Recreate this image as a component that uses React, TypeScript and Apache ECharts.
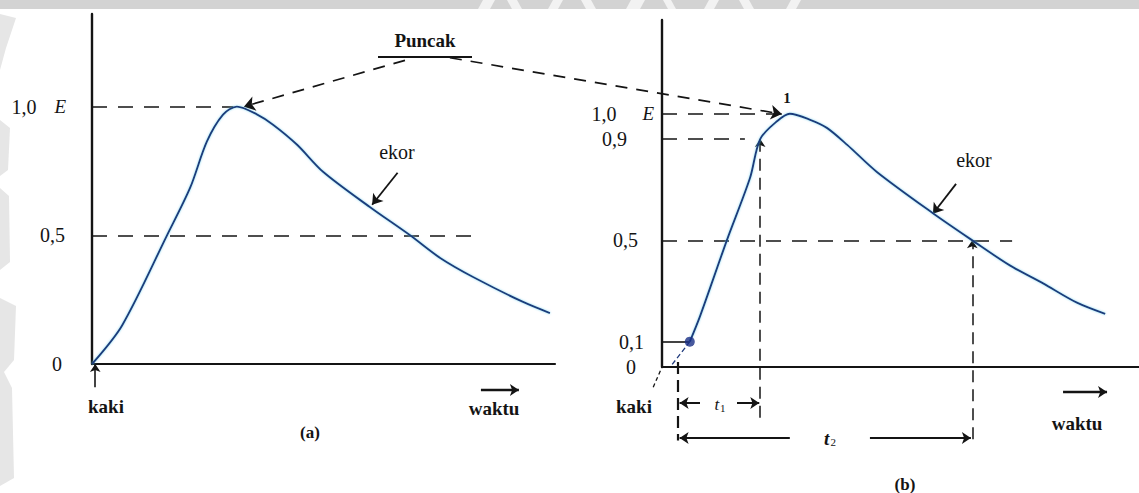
import React, { useEffect, useRef } from "react";
import * as echarts from "echarts";

// ---- Panel (a): full impulse wave, voltage as a fraction of the crest E ----
const waveATime = [0, 6.5, 16.2, 21.2, 24.8, 28.3, 31.3, 35.6, 39.1, 44.3, 49.9, 60, 68.7, 75.2, 82.3, 93.1, 98.9];
const waveAVolt = [0, 0.15, 0.5, 0.685, 0.864, 0.969, 1.0, 0.97, 0.93, 0.852, 0.747, 0.61, 0.5, 0.412, 0.338, 0.241, 0.198];
const yTicksA = [0, 0.5, 1.0];

// ---- Panel (b): same wave with front (t1) and tail (t2) times ----
const waveBTime = [6.0, 8.2, 14.0, 19.0, 21.2, 24.8, 27.6, 32.0, 35.6, 40.0, 46.4, 58.5, 67.0, 75.2, 82.3, 89.6, 95.7];
const waveBVolt = [0.1, 0.2, 0.5, 0.746, 0.9, 0.97, 1.0, 0.976, 0.944, 0.877, 0.77, 0.607, 0.5, 0.4, 0.33, 0.254, 0.21];
const yTicksB = [0, 0.1, 0.5, 0.9, 1.0];
const virtualOrigin = 3.5; // where t1 and t2 are measured from
const t1End = 21.2; // crossing of 0,9
const t2End = 67.0; // crossing of 0,5 on the tail

const serif = "'Liberation Serif', 'DejaVu Serif', serif";
const ink = "#141414";
const curveColor = "#1f3a7c";

type Pt = [number, number];

function segs(
  grid: number,
  data: Pt[][],
  opts: { arrow?: boolean; dash?: number[] | "solid"; width?: number; size?: number; color?: string } = {}
) {
  return {
    type: "lines",
    coordinateSystem: "cartesian2d",
    xAxisIndex: grid,
    yAxisIndex: grid,
    clip: false,
    silent: true,
    z: 3,
    symbol: opts.arrow ? ["none", "arrow"] : ["none", "none"],
    symbolSize: opts.size ?? 10,
    lineStyle: {
      color: opts.color ?? ink,
      width: opts.width ?? 1.6,
      type: opts.dash ?? "solid",
      opacity: 1,
      curveness: 0,
    },
    data: data.map((c) => ({ coords: c })),
  };
}

const near = (a: number, b: number) => Math.abs(a - b) < 1e-6;
const fmt = (v: number) => (v === 0 ? "0" : v.toFixed(1).replace(".", ","));

function labelA(v: number) {
  const t = yTicksA.find((k) => near(k, v));
  if (t === undefined) return "";
  if (near(t, 1)) return `{n|${fmt(t)}}{g18| }{e|E}`;
  if (t === 0) return `{n|${fmt(t)}}{g4| }`;
  return `{n|${fmt(t)}}{g1| }`;
}

function labelB(v: number) {
  const t = yTicksB.find((k) => near(k, v));
  if (t === undefined) return "";
  if (near(t, 1)) return `{n|${fmt(t)}}{g26| }{e|E}`;
  if (near(t, 0.9)) return `{n|${fmt(t)}}{g27| }`;
  if (near(t, 0.5)) return `{n|${fmt(t)}}{g16| }`;
  if (near(t, 0.1)) return `{n|${fmt(t)}}{g10| }`;
  return `{n|${fmt(t)}}{g18| }`;
}

const rich: any = {
  n: { fontFamily: serif, fontSize: 20, color: ink },
  e: { fontFamily: serif, fontSize: 19, fontStyle: "italic", color: ink },
  g1: { width: 1 },
  g4: { width: 4 },
  g10: { width: 10 },
  g16: { width: 16 },
  g18: { width: 18 },
  g26: { width: 26 },
  g27: { width: 27 },
};

function xAxis(grid: number, max: number) {
  return {
    type: "value",
    gridIndex: grid,
    min: 0,
    max,
    axisLine: { show: true, onZero: true, lineStyle: { color: ink, width: 2.2 } },
    axisTick: { show: false },
    axisLabel: { show: false },
    splitLine: { show: false },
  };
}

function yAxis(grid: number, max: number, margin: number, formatter: (v: number) => string) {
  return {
    type: "value",
    gridIndex: grid,
    min: 0,
    max,
    interval: 0.1,
    axisLine: { show: true, lineStyle: { color: ink, width: 2.4 } },
    axisTick: { show: false },
    splitLine: { show: false },
    axisLabel: {
      show: true,
      margin,
      showMaxLabel: false,
      formatter,
      rich,
      fontFamily: serif,
      fontSize: 20,
      color: ink,
    },
  };
}

function txt(text: string, x: number, y: number, size: number, extra: any = {}) {
  return {
    type: "text",
    silent: true,
    z: 10,
    style: {
      text,
      x,
      y,
      fill: ink,
      font: `${extra.weight ?? "normal"} ${extra.italic ? "italic " : ""}${size}px ${serif}`,
      align: "center",
      verticalAlign: "middle",
      rich: extra.rich,
    },
  };
}

function watermark() {
  const band = "#d3d3d3";
  const faint = "#e6e6e6";
  const shapes: any[] = [
    { type: "rect", shape: { x: 0, y: 0, width: 1139, height: 9 }, style: { fill: band }, silent: true, z: 0 },
  ];
  // light strokes of the scanned watermark lettering inside the top band
  const cuts: number[][] = [
    [478, 490], [512, 522], [548, 558], [586, 596], [626, 640], [668, 676], [704, 714], [744, 754], [786, 796],
  ];
  cuts.forEach(([a, b], i) => {
    const lean = i % 2 === 0 ? 5 : -5;
    shapes.push({
      type: "polygon",
      silent: true,
      z: 0,
      shape: { points: [[a + lean, 0], [b + lean, 0], [b, 9], [a, 9]] },
      style: { fill: "#f2f2f2" },
    });
  });
  // soft grey lettering fragments along the left edge
  const left: number[][][] = [
    [[0, 14], [16, 18], [6, 48], [0, 70]],
    [[0, 120], [10, 128], [8, 170], [0, 176]],
    [[0, 188], [9, 196], [10, 262], [0, 270]],
    [[0, 298], [16, 306], [14, 360], [4, 372], [12, 388], [14, 478], [0, 486]],
  ];
  left.forEach((pts) =>
    shapes.push({ type: "polygon", silent: true, z: 0, shape: { points: pts }, style: { fill: faint } })
  );
  return shapes;
}

function waveSeries(grid: number, xs: number[], ys: number[]) {
  return {
    type: "line",
    xAxisIndex: grid,
    yAxisIndex: grid,
    data: xs.map((x, i) => [x, ys[i]]),
    showSymbol: false,
    smooth: 0.3,
    silent: true,
    z: 4,
    lineStyle: { color: curveColor, width: 1.9, shadowColor: "rgba(90,200,235,0.7)", shadowBlur: 2 },
  };
}

function buildOption() {
  const dash: number[] = [15, 11];
  const shortDash: number[] = [12, 9];

  return {
    animation: false,
    backgroundColor: "#ffffff",
    grid: [
      { left: 92, top: 14, width: 463, height: 350, containLabel: false },
      { left: 662, top: 20, width: 477, height: 347, containLabel: false },
    ],
    xAxis: [xAxis(0, 100), xAxis(1, 103)],
    yAxis: [yAxis(0, 1.36, 26, labelA), yAxis(1, 1.37, 8, labelB)],
    series: [
      waveSeries(0, waveATime, waveAVolt),
      waveSeries(1, waveBTime, waveBVolt),
      // the 0,1 point where the front is picked up
      {
        type: "scatter",
        xAxisIndex: 1,
        yAxisIndex: 1,
        data: [[waveBTime[0], waveBVolt[0]]],
        symbolSize: 10,
        silent: true,
        z: 6,
        itemStyle: { color: "#1a2f86" },
      },
      // panel (a) level guides
      segs(0, [
        [[0, 1], [30.5, 1]],
        [[0, 0.5], [82.7, 0.5]],
      ], { dash }),
      // panel (b) level guides
      segs(1, [
        [[0, 1], [27, 1]],
        [[0, 0.9], [17.9, 0.9]],
        [[0, 0.5], [75.6, 0.5]],
      ], { dash }),
      segs(1, [[[0, 0.1], [waveBTime[0], 0.1]]], { width: 1.6 }),
      // straight-line extension of the front down to the virtual origin
      segs(1, [[[2.2, 0.01], [waveBTime[0], waveBVolt[0]]]], { dash: [5, 3], width: 1.3, color: curveColor }),
      segs(1, [[[-1.9, -0.08], [0, 0]]], { dash: [4, 3], width: 1.3 }),
      // time markers dropped from the wave
      segs(1, [
        [[t1End, -0.2], [t1End, 0.9]],
        [[t2End, -0.285], [t2End, 0.5]],
      ], { dash: [12, 7], width: 1.5, arrow: true, size: 8 }),
      segs(1, [[[virtualOrigin, 0.02], [virtualOrigin, -0.29]]], { dash: [12, 6], width: 2.2 }),
      // t1 and t2 dimension arrows
      segs(1, [
        [[8.2, -0.142], [virtualOrigin + 0.3, -0.142]],
        [[16.2, -0.142], [t1End - 0.2, -0.142]],
        [[27.6, -0.28], [virtualOrigin + 0.3, -0.28]],
        [[44.9, -0.28], [t2End - 0.3, -0.28]],
      ], { arrow: true, width: 2, size: 9 }),
      // "Puncak" pointers to both crests
      segs(0, [
        [[67.6, 1.18], [32.8, 1.0]],
        [[77.3, 1.19], [149.0, 0.971]],
      ], { dash: shortDash, width: 1.7, arrow: true, size: 11 }),
      // "ekor" pointers
      segs(0, [[[66.0, 0.743], [60.5, 0.619]]], { arrow: true, width: 1.8, size: 10 }),
      segs(1, [[[63.5, 0.723], [58.5, 0.605]]], { arrow: true, width: 1.8, size: 10 }),
      // "kaki" pointer and time direction arrows
      segs(0, [[[0.7, -0.09], [0.7, 0]]], { arrow: true, width: 1.6, size: 8 }),
      segs(0, [[[84, -0.101], [92.2, -0.101]]], { arrow: true, width: 2.4, size: 9 }),
      segs(1, [[[86.6, -0.099], [96.1, -0.099]]], { arrow: true, width: 2.4, size: 9 }),
    ],
    graphic: [
      ...watermark(),
      txt("Puncak", 425, 40, 19, { weight: "bold" }),
      { type: "line", silent: true, z: 10, shape: { x1: 378, y1: 57, x2: 472, y2: 57 }, style: { stroke: ink, lineWidth: 1.8 } },
      txt("ekor", 397, 152, 20),
      txt("ekor", 974, 160, 20),
      txt("kaki", 106, 406, 19, { weight: "bold" }),
      txt("kaki", 634, 406, 19, { weight: "bold" }),
      txt("waktu", 494, 408, 19, { weight: "bold" }),
      txt("waktu", 1077, 423, 19, { weight: "bold" }),
      txt("(a)", 310, 432, 17, { weight: "bold" }),
      txt("(b)", 905, 484, 17, { weight: "bold" }),
      txt("1", 787, 98, 15, { weight: "bold" }),
      txt("{t|t}{s|1}", 720, 404, 17, {
        rich: {
          t: { fontFamily: serif, fontStyle: "italic", fontSize: 17, fill: ink },
          s: { fontFamily: serif, fontSize: 11, fill: ink, padding: [8, 0, 0, 1] },
        },
      }),
      txt("{t|t}{s|2}", 830, 438, 19, {
        rich: {
          t: { fontFamily: serif, fontStyle: "italic", fontWeight: "bold", fontSize: 19, fill: ink },
          s: { fontFamily: serif, fontSize: 11, fill: ink, padding: [8, 0, 0, 1] },
        },
      }),
    ],
  };
}

export default function App() {
  const ref = useRef<HTMLDivElement>(null);
  useEffect(() => {
    if (!ref.current) return;
    const chart = echarts.init(ref.current, null, { renderer: "svg" });
    chart.setOption(buildOption() as any);
    return () => chart.dispose();
  }, []);
  return (
    <div
      ref={ref}
      style={{ position: "fixed", left: 0, top: 0, width: 1139, height: 493, background: "#ffffff" }}
    />
  );
}
